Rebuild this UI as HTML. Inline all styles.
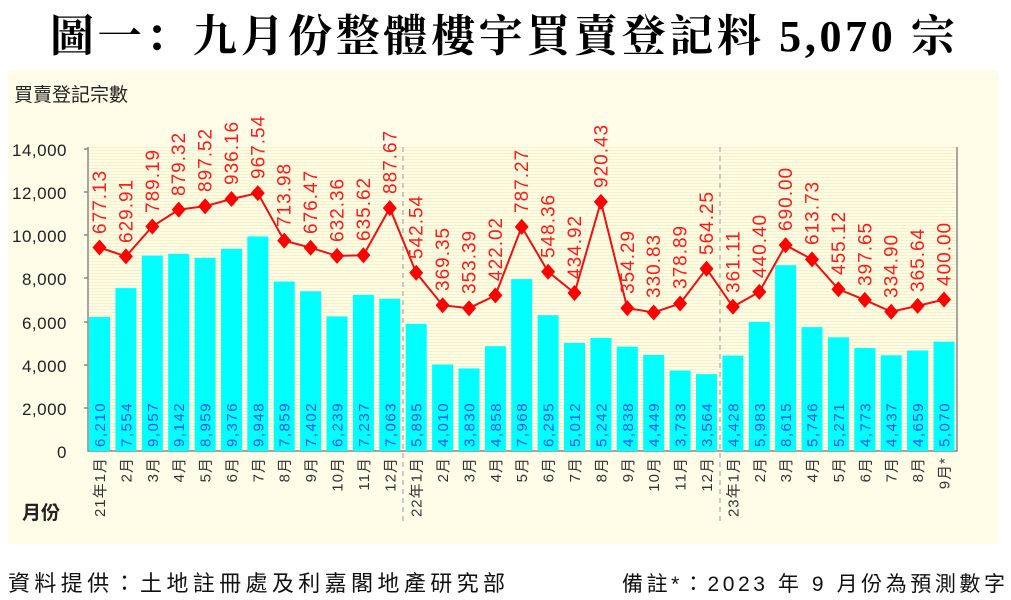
<!DOCTYPE html>
<html><head><meta charset="utf-8">
<style>
html,body{margin:0;padding:0;background:#fff;width:1011px;height:600px;overflow:hidden}
svg{display:block;font-family:"Liberation Sans","Noto Sans CJK TC",sans-serif}
.t{font-family:"Liberation Serif","Noto Serif CJK SC",serif;font-weight:bold}
.r{fill:#ff1a1a;font-size:19px;letter-spacing:1px}
.b{fill:#1a4dff;font-size:15px;letter-spacing:1.5px}
.c{fill:#333;font-size:15px;letter-spacing:1px}
.y{fill:#222;font-size:17px;letter-spacing:0.5px}
</style></head><body>
<svg width="1011" height="600" viewBox="0 0 1011 600">
<defs>
<pattern id="st" width="4" height="3" patternUnits="userSpaceOnUse"><rect width="4" height="3" fill="#fffde6"/><rect width="4" height="1" fill="#f6f1c8"/></pattern>
</defs>
<text class="t" x="50" y="51" font-size="44" fill="#000" textLength="905" lengthAdjust="spacing">圖一：九月份整體樓宇買賣登記料 5,070 宗</text>
<rect x="8" y="70" width="990" height="474" fill="#fffde8"/>
<rect x="88" y="147" width="869" height="304" fill="url(#st)"/>
<text x="14" y="101" font-size="19" fill="#222">買賣登記宗數</text>
<text x="22" y="519" font-size="19" font-weight="bold" fill="#222">月份</text>
<g class="y" text-anchor="end">
<text x="67" y="156">14,000</text><text x="67" y="199">12,000</text><text x="67" y="242">10,000</text>
<text x="67" y="285">8,000</text><text x="67" y="329">6,000</text><text x="67" y="372">4,000</text>
<text x="67" y="415">2,000</text><text x="67" y="458">0</text>
</g>
<g stroke="#888" stroke-width="1.5" fill="none">
<path d="M88 147V451H957V147"/>
<path d="M84 149H88M84 192H88M84 235H88M84 278H88M84 322H88M84 365H88M84 408H88"/>
</g>
<g stroke="#aaa" stroke-dasharray="5,4" stroke-width="1.2">
<path d="M403 147V525M720 147V525"/>
</g>
<g fill="#00ffff">
<rect x="89" y="317" width="21" height="134"/><rect x="115.4" y="288.1" width="21" height="162.9"/>
<rect x="141.8" y="255.6" width="21" height="195.4"/><rect x="168.2" y="253.8" width="21" height="197.2"/>
<rect x="194.6" y="257.8" width="21" height="193.2"/><rect x="221" y="248.8" width="21" height="202.2"/>
<rect x="247.3" y="236.4" width="21" height="214.6"/><rect x="273.7" y="281.5" width="21" height="169.5"/>
<rect x="300.1" y="291.3" width="21" height="159.7"/><rect x="326.5" y="316.4" width="21" height="134.6"/>
<rect x="352.9" y="294.9" width="21" height="156.1"/><rect x="379.3" y="298.7" width="21" height="152.3"/>
<rect x="405.7" y="323.8" width="21" height="127.2"/><rect x="432.1" y="364.5" width="21" height="86.5"/>
<rect x="458.5" y="368.4" width="21" height="82.6"/><rect x="484.9" y="346.2" width="21" height="104.8"/>
<rect x="511.2" y="279.1" width="21" height="171.9"/><rect x="537.6" y="315.2" width="21" height="135.8"/>
<rect x="564" y="342.9" width="21" height="108.1"/><rect x="590.4" y="337.9" width="21" height="113.1"/>
<rect x="616.8" y="346.6" width="21" height="104.4"/><rect x="643.2" y="355" width="21" height="96"/>
<rect x="669.6" y="370.5" width="21" height="80.5"/><rect x="696" y="374.1" width="21" height="76.9"/>
<rect x="722.4" y="355.5" width="21" height="95.5"/><rect x="748.8" y="321.9" width="21" height="129.1"/>
<rect x="775.1" y="265.2" width="21" height="185.8"/><rect x="801.5" y="327.1" width="21" height="123.9"/>
<rect x="827.9" y="337.3" width="21" height="113.7"/><rect x="854.3" y="348" width="21" height="103"/>
<rect x="880.7" y="355.3" width="21" height="95.7"/><rect x="907.1" y="350.5" width="21" height="100.5"/>
<rect x="933.5" y="341.6" width="21" height="109.4"/>
</g>
<g class="b">
<text transform="translate(105,447) rotate(-90)">6,210</text><text transform="translate(131.4,447) rotate(-90)">7,554</text>
<text transform="translate(157.8,447) rotate(-90)">9,057</text><text transform="translate(184.2,447) rotate(-90)">9,142</text>
<text transform="translate(210.6,447) rotate(-90)">8,959</text><text transform="translate(237,447) rotate(-90)">9,376</text>
<text transform="translate(263.3,447) rotate(-90)">9,948</text><text transform="translate(289.7,447) rotate(-90)">7,859</text>
<text transform="translate(316.1,447) rotate(-90)">7,402</text><text transform="translate(342.5,447) rotate(-90)">6,239</text>
<text transform="translate(368.9,447) rotate(-90)">7,237</text><text transform="translate(395.3,447) rotate(-90)">7,063</text>
<text transform="translate(421.7,447) rotate(-90)">5,895</text><text transform="translate(448.1,447) rotate(-90)">4,010</text>
<text transform="translate(474.5,447) rotate(-90)">3,830</text><text transform="translate(500.9,447) rotate(-90)">4,858</text>
<text transform="translate(527.2,447) rotate(-90)">7,968</text><text transform="translate(553.6,447) rotate(-90)">6,295</text>
<text transform="translate(580,447) rotate(-90)">5,012</text><text transform="translate(606.4,447) rotate(-90)">5,242</text>
<text transform="translate(632.8,447) rotate(-90)">4,838</text><text transform="translate(659.2,447) rotate(-90)">4,449</text>
<text transform="translate(685.6,447) rotate(-90)">3,733</text><text transform="translate(712,447) rotate(-90)">3,564</text>
<text transform="translate(738.4,447) rotate(-90)">4,428</text><text transform="translate(764.8,447) rotate(-90)">5,983</text>
<text transform="translate(791.1,447) rotate(-90)">8,615</text><text transform="translate(817.5,447) rotate(-90)">5,746</text>
<text transform="translate(843.9,447) rotate(-90)">5,271</text><text transform="translate(870.3,447) rotate(-90)">4,773</text>
<text transform="translate(896.7,447) rotate(-90)">4,437</text><text transform="translate(923.1,447) rotate(-90)">4,659</text>
<text transform="translate(949.5,447) rotate(-90)">5,070</text>
</g>
<g class="c" text-anchor="end">
<text transform="translate(105,457) rotate(-90)">21年1月</text><text transform="translate(131.4,457) rotate(-90)">2月</text>
<text transform="translate(157.8,457) rotate(-90)">3月</text><text transform="translate(184.2,457) rotate(-90)">4月</text>
<text transform="translate(210.6,457) rotate(-90)">5月</text><text transform="translate(237,457) rotate(-90)">6月</text>
<text transform="translate(263.3,457) rotate(-90)">7月</text><text transform="translate(289.7,457) rotate(-90)">8月</text>
<text transform="translate(316.1,457) rotate(-90)">9月</text><text transform="translate(342.5,457) rotate(-90)">10月</text>
<text transform="translate(368.9,457) rotate(-90)">11月</text><text transform="translate(395.3,457) rotate(-90)">12月</text>
<text transform="translate(421.7,457) rotate(-90)">22年1月</text><text transform="translate(448.1,457) rotate(-90)">2月</text>
<text transform="translate(474.5,457) rotate(-90)">3月</text><text transform="translate(500.9,457) rotate(-90)">4月</text>
<text transform="translate(527.2,457) rotate(-90)">5月</text><text transform="translate(553.6,457) rotate(-90)">6月</text>
<text transform="translate(580,457) rotate(-90)">7月</text><text transform="translate(606.4,457) rotate(-90)">8月</text>
<text transform="translate(632.8,457) rotate(-90)">9月</text><text transform="translate(659.2,457) rotate(-90)">10月</text>
<text transform="translate(685.6,457) rotate(-90)">11月</text><text transform="translate(712,457) rotate(-90)">12月</text>
<text transform="translate(738.4,457) rotate(-90)">23年1月</text><text transform="translate(764.8,457) rotate(-90)">2月</text>
<text transform="translate(791.1,457) rotate(-90)">3月</text><text transform="translate(817.5,457) rotate(-90)">4月</text>
<text transform="translate(843.9,457) rotate(-90)">5月</text><text transform="translate(870.3,457) rotate(-90)">6月</text>
<text transform="translate(896.7,457) rotate(-90)">7月</text><text transform="translate(923.1,457) rotate(-90)">8月</text>
<text transform="translate(949.5,457) rotate(-90)">9月*</text>
</g>
<polyline fill="none" stroke="#ee1111" stroke-width="2" points="99.5,247.5 125.9,256.4 152.3,226.5 178.7,209.6 205.1,206.2 231.5,199 257.8,193.1 284.2,240.6 310.6,247.7 337,255.9 363.4,255.3 389.8,208.1 416.2,272.8 442.6,305.2 469,308.2 495.4,295.4 521.7,226.9 548.1,271.7 574.5,293 600.9,201.9 627.3,308.1 653.7,312.5 680.1,303.5 706.5,268.7 732.9,306.8 759.3,291.9 785.6,245.1 812,259.4 838.4,289.2 864.8,299.9 891.2,311.7 917.6,305.9 944,299.5"/>
<g fill="#ff0000">
<path d="M99.5 239.5l7 8-7 8-7-8z"/><path d="M125.9 248.4l7 8-7 8-7-8z"/><path d="M152.3 218.5l7 8-7 8-7-8z"/>
<path d="M178.7 201.6l7 8-7 8-7-8z"/><path d="M205.1 198.2l7 8-7 8-7-8z"/><path d="M231.5 191l7 8-7 8-7-8z"/>
<path d="M257.8 185.1l7 8-7 8-7-8z"/><path d="M284.2 232.6l7 8-7 8-7-8z"/><path d="M310.6 239.7l7 8-7 8-7-8z"/>
<path d="M337 247.9l7 8-7 8-7-8z"/><path d="M363.4 247.3l7 8-7 8-7-8z"/><path d="M389.8 200.1l7 8-7 8-7-8z"/>
<path d="M416.2 264.8l7 8-7 8-7-8z"/><path d="M442.6 297.2l7 8-7 8-7-8z"/><path d="M469 300.2l7 8-7 8-7-8z"/>
<path d="M495.4 287.4l7 8-7 8-7-8z"/><path d="M521.7 218.9l7 8-7 8-7-8z"/><path d="M548.1 263.7l7 8-7 8-7-8z"/>
<path d="M574.5 285l7 8-7 8-7-8z"/><path d="M600.9 193.9l7 8-7 8-7-8z"/><path d="M627.3 300.1l7 8-7 8-7-8z"/>
<path d="M653.7 304.5l7 8-7 8-7-8z"/><path d="M680.1 295.5l7 8-7 8-7-8z"/><path d="M706.5 260.7l7 8-7 8-7-8z"/>
<path d="M732.9 298.8l7 8-7 8-7-8z"/><path d="M759.3 283.9l7 8-7 8-7-8z"/><path d="M785.6 237.1l7 8-7 8-7-8z"/>
<path d="M812 251.4l7 8-7 8-7-8z"/><path d="M838.4 281.2l7 8-7 8-7-8z"/><path d="M864.8 291.9l7 8-7 8-7-8z"/>
<path d="M891.2 303.7l7 8-7 8-7-8z"/><path d="M917.6 297.9l7 8-7 8-7-8z"/><path d="M944 291.5l7 8-7 8-7-8z"/>
</g>
<g class="r">
<text transform="translate(106,234) rotate(-90)">677.13</text><text transform="translate(132.4,243) rotate(-90)">629.91</text>
<text transform="translate(158.8,213) rotate(-90)">789.19</text><text transform="translate(185.2,196) rotate(-90)">879.32</text>
<text transform="translate(211.6,192) rotate(-90)">897.52</text><text transform="translate(238,185) rotate(-90)">936.16</text>
<text transform="translate(264.3,179) rotate(-90)">967.54</text><text transform="translate(290.7,227) rotate(-90)">713.98</text>
<text transform="translate(317.1,234) rotate(-90)">676.47</text><text transform="translate(343.5,242) rotate(-90)">632.36</text>
<text transform="translate(369.9,241) rotate(-90)">635.62</text><text transform="translate(396.3,194) rotate(-90)">887.67</text>
<text transform="translate(422.7,259) rotate(-90)">542.54</text><text transform="translate(449.1,291) rotate(-90)">369.35</text>
<text transform="translate(475.5,294) rotate(-90)">353.39</text><text transform="translate(501.9,281) rotate(-90)">422.02</text>
<text transform="translate(528.2,213) rotate(-90)">787.27</text><text transform="translate(554.6,258) rotate(-90)">548.36</text>
<text transform="translate(581,279) rotate(-90)">434.92</text><text transform="translate(607.4,188) rotate(-90)">920.43</text>
<text transform="translate(633.8,294) rotate(-90)">354.29</text><text transform="translate(660.2,298) rotate(-90)">330.83</text>
<text transform="translate(686.6,289) rotate(-90)">378.89</text><text transform="translate(713,255) rotate(-90)">564.25</text>
<text transform="translate(739.4,293) rotate(-90)">361.11</text><text transform="translate(765.8,278) rotate(-90)">440.40</text>
<text transform="translate(792.1,231) rotate(-90)">690.00</text><text transform="translate(818.5,245) rotate(-90)">613.73</text>
<text transform="translate(844.9,275) rotate(-90)">455.12</text><text transform="translate(871.3,286) rotate(-90)">397.65</text>
<text transform="translate(897.7,298) rotate(-90)">334.90</text><text transform="translate(924.1,292) rotate(-90)">365.64</text>
<text transform="translate(950.5,286) rotate(-90)">400.00</text>
</g>
<text x="8" y="591" font-size="22" fill="#111" textLength="497" lengthAdjust="spacing">資料提供：土地註冊處及利嘉閣地產研究部</text>
<text x="622" y="591" font-size="21" fill="#111" textLength="383" lengthAdjust="spacing">備註*：2023 年 9 月份為預測數字</text>
</svg>
</body></html>
